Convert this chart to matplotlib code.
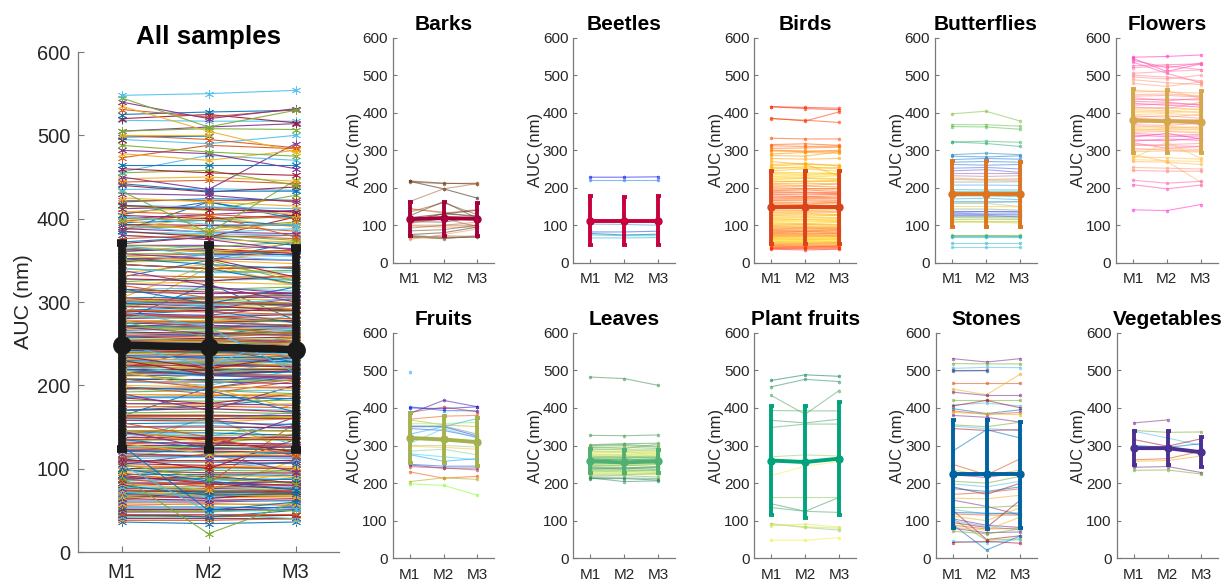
import numpy as np
import matplotlib
matplotlib.use("Agg")
import matplotlib.pyplot as plt
from matplotlib.colors import LinearSegmentedColormap as LSC

plt.rcParams['font.family'] = ['Liberation Sans', 'DejaVu Sans']
n = float('nan')
METHODS = ['M1', 'M2', 'M3']

BARKS = [(217,197,172),(218,212,210),(215,211,212),(163,197,211),(145,132,142),(143,135,120),(135,160,128),(125,163,118),
 (120,130,140),(112,130,125),(110,108,122),(105,118,96),(100,100,108),(98,95,95),(92,100,100),(85,88,100),(75,80,95),
 (72,68,68),(70,65,70),(68,64,72),(65,72,70),(62,75,90)]
BEETLES = [(228,228,229),(220,220,220),(103,102,100),(82,82,84),(78,74,76),(74,72,72),(66,66,67)]
BIRDS = [(416,414,412),(416,411,408),(385,378,402),(384,380,374),(332,330,330),(315,317,313),(312,310,311),(305,306,308),
 (300,298,297),(298,296,300),(290,294,292),(286,284,296),(278,276,278),(270,262,260),(262,265,258),(258,262,232),(254,252,254),(250,256,250),
 (245,250,244),(241,240,238),(238,236,238),(234,233,235),(230,228,232),(226,226,224),(222,225,222),(218,216,220),(215,218,216),(211,212,210),(208,206,210),
 (204,204,202),(200,198,196),(196,197,198),(192,194,190),(189,188,187),(186,186,184),(182,181,182),(178,176,178),(174,175,173),(170,172,170),(167,168,166),(165,165,162),
 (161,160,160),(158,156,160),(154,155,153),(150,152,148),(147,147,147),(144,146,145),(141,140,141),(138,138,136),(134,135,134),
 (130,132,128),(127,128,127),(125,124,126),(121,121,120),(118,116,118),(115,115,114),(112,114,112),(109,109,110),(106,104,108),(103,103,102),(100,102,100),(98,98,97),(96,95,94),(93,93,92),(90,92,90),(88,88,87),(86,85,88),
 (83,83,84),(80,82,80),(78,78,77),(76,76,78),(74,73,74),(72,74,72),(70,70,69),(68,68,70),(66,65,66),(64,62,64),(62,62,61),(60,60,62),(58,57,58),(56,58,56),(54,54,53),(52,52,54),(50,49,50),(48,50,50),(46,46,46),(44,43,44),
 (42,42,44),(40,40,39),(38,38,40),(36,34,36)]
BUTTERFLIES = [(397,404,378),(368,368,364),(363,362,356),(322,324,321),(322,318,310),(288,292,288),(284,282,285),
 (275,278,276),(268,270,268),(262,260,262),(252,254,250),(245,248,241),(240,240,240),(232,230,232),(226,222,224),
 (222,220,220),(215,215,216),(207,207,206),(195,194,194),(190,190,190),(185,185,184),(178,178,176),(170,172,168),(165,165,165),
 (160,160,162),(158,158,150),(150,150,149),(143,143,140),(138,138,138),(135,136,135),(132,130,130),(128,128,127),(126,126,122),(124,124,124),(120,120,119),(115,116,115),
 (110,110,110),(108,108,106),(74,74,74),(72,72,71),(70,70,70),(68,68,68),(52,52,52),(41,41,41)]
FLOWERS = [(548,550,554),(545,510,530),(540,520,532),(535,505,480),(525,528,530),(520,525,515),(505,510,514),(500,495,485),
 (495,490,500),(488,480,475),(478,470,482),(460,455,452),(455,458,440),(448,450,445),(444,446,442),(440,432,438),(435,436,434),(430,428,420),
 (425,420,415),(420,424,422),(415,410,428),(412,414,408),(408,405,400),(404,400,404),(400,405,410),(395,398,392),(392,388,396),(388,392,385),(384,382,380),(380,375,372),(376,380,376),(372,378,368),(368,366,372),
 (365,360,362),(361,364,358),(358,352,350),(355,358,360),(352,356,355),(348,350,346),(345,340,342),(340,336,338),(335,345,330),(328,325,332),(324,330,326),(320,305,310),(315,312,310),(312,315,318),
 (305,300,298),(300,304,302),(296,298,295),(288,270,215),(282,280,276),(278,322,278),(275,272,270),(270,268,262),(254,252,250),
 (246,244,244),(220,212,217),(208,197,207),(141,139,155)]
FRUITS = [(495,n,n),(403,393,392),(400,398,403),(385,420,403),(388,402,390),(370,378,380),(368,355,350),(358,358,362),
 (352,352,330),(350,350,325),(345,340,322),(330,350,372),(305,345,320),(300,300,296),(298,295,290),(285,290,275),
 (278,270,262),(276,258,265),(250,245,245),(248,240,240),(244,240,235),(230,213,218),(204,214,210),(198,194,168)]
LEAVES = [(482,478,460),(327,326,328),(302,305,306),(300,303,298),(298,300,296),(295,292,304),(293,296,292),(290,288,285),(288,290,290),(285,282,280),(283,284,286),(280,282,276),(278,277,280),
 (276,274,278),(274,276,272),(272,270,272),(270,272,268),(268,266,270),(266,268,266),(264,262,264),(262,264,260),(260,258,262),(258,256,258),(256,254,256),(254,256,252),(252,252,250),(250,248,252),(248,246,250),(246,248,244),
 (244,242,240),(242,240,244),(240,238,242),(238,240,236),(236,234,232),(234,236,234),(232,230,236),(230,232,228),(228,226,228),(226,228,224),(224,224,222),(221,222,226),(218,220,216),(215,214,212),(214,204,206),(212,212,208)]
PLANT_FRUITS = [(473,488,484),(456,476,470),(433,383,446),(393,392,392),(367,360,370),(348,357,357),(270,275,272),
 (220,245,257),(163,163,163),(145,125,162),(135,125,122),(92,82,75),(90,84,80),(87,91,83),(48,48,55)]
STONES = [(531,522,531),(518,517,517),(505,508,507),(500,500,n),(498,499,n),(465,465,465),(450,435,490),(442,433,433),
 (422,422,422),(408,413,405),(405,420,400),(398,385,395),(392,383,388),(388,384,382),(380,375,362),(355,350,362),
 (352,345,340),(345,340,342),(285,342,320),(250,222,265),(235,220,235),(222,215,228),(205,200,218),(198,190,205),
 (190,170,200),(185,178,190),(170,175,185),(160,158,168),(155,138,115),(135,135,140),(130,118,122),(128,50,60),
 (122,120,118),(118,115,115),(112,100,135),(105,88,82),(105,48,52),(100,85,75),(95,82,155),(90,22,60),(88,78,80),
 (82,75,110),(80,68,70),(72,65,78),(45,42,50),(42,45,40)]
VEGETABLES = [(360,368,n),(340,335,336),(338,320,300),(316,298,318),(300,295,305),(262,265,285),(258,260,272),(242,244,228),(234,235,224)]

GROUP_NAMES = ['Barks','Beetles','Birds','Butterflies','Flowers','Fruits','Leaves','Plant fruits','Stones','Vegetables']
GROUP_ROWS = [BARKS,BEETLES,BIRDS,BUTTERFLIES,FLOWERS,FRUITS,LEAVES,PLANT_FRUITS,STONES,VEGETABLES]
GROUP_MEAN = [(116,119,117),(112,112,112),(148,148,148),(183,183,183),(380,377,376),(320,316,309),(258,255,258),(260,256,265),(224,224,224),(293,293,282)]
GROUP_UP = [(162,163,158),(177,176,177),(245,245,244),(270,270,268),(463,460,458),(387,378,372),(290,288,288),(404,404,415),(367,368,363),(339,339,322)]
GROUP_LOW = [(70,72,70),(46,46,46),(50,50,50),(95,95,95),(292,293,293),(254,254,246),(228,228,228),(116,108,115),(81,78,81),(247,247,243)]
ALL_MEAN = (248,246,243)
ALL_UP = (371,368,365)
ALL_LOW = (124,123,123)

MAT = ['#0072BD','#D95319','#EDB120','#7E2F8E','#77AC30','#4DBEEE','#A2142F']
LINE_COL = [['#302010','#E08040','#201810','#E89050','#302010','#E8A060'],
 ['#0000FF','#30A0E0','#40A0E0','#0000FF','#00E080','#30B0E0'],
 ['#FF2000','#FFA000','#FFD000','#FF4000','#FF8000','#FFD000','#FF6000','#FFE000','#FF2000'],
 ['#80C040','#40C060','#2080E0','#2080E0','#8060E0','#F0A040','#40A0F0','#40C080','#40A0F0','#F0D040','#2060E0','#6060F0','#80C040','#D8C820','#20B0A0','#40C0E0'],
 ['#FF30C0','#FF80A0','#FFB060','#FF40B0','#FFE040','#FF50B0','#FFE040','#FF30C0','#FFA080','#FFD040','#FF30D0'],
 ['#20A0FF','#0000E0','#FF4000','#90FF40','#2030E0','#20D0FF','#FFC030','#20E0FF','#2040E0','#FF4000','#80FF30'],
 ['#409050','#80C060','#F0F050','#30A060','#C0E060','#40A060','#E0F060','#208060'],
 ['#108060','#60B060','#40A070','#F0F060','#209070','#C0E060','#F0F040'],
 None, None]
MEAN_COL = ['#A5003C','#C8003C','#D9431E','#DD7420','#D4A84B','#A4B14C','#4FB071','#00A37A','#0062A0','#4A3090']
AST = (6, 2, 0)

W, H = 1228, 580
fig = plt.figure(figsize=(W/100, H/100), dpi=100)

def box(l, r, top, bot):
    return fig.add_axes([l/W, 1-bot/H, (r-l)/W, (bot-top)/H])

def style(ax, fs, lfs, title, tfs, tpad, tl, xpad, ypad, lpad):
    ax.set_xlim(0.5, 3.5); ax.set_ylim(0, 600)
    ax.set_xticks([1,2,3], METHODS); ax.set_yticks(range(0,601,100))
    for s in ('top','right'):
        ax.spines[s].set_visible(False)
    for s in ('left','bottom'):
        ax.spines[s].set_color('#7a7a7a'); ax.spines[s].set_linewidth(0.9)
    ax.tick_params(direction='in', length=tl, width=0.8, color='#7a7a7a', labelcolor='#262626', labelsize=fs)
    ax.tick_params(axis='x', pad=xpad); ax.tick_params(axis='y', pad=ypad)
    ax.set_ylabel('AUC (nm)', fontsize=lfs, color='#262626', labelpad=lpad)
    ax.set_title(title, fontsize=tfs, fontweight='bold', pad=tpad)

def summary(ax, mean, up, low, col, lw, ms, cap):
    m, u, d = np.array(mean,float), np.array(up,float), np.array(low,float)
    ax.errorbar([1,2,3], m, yerr=[m-d, u-m], color=col, lw=lw, elinewidth=lw, marker='o', ms=ms,
                capsize=cap, capthick=lw, zorder=10)

# main panel
ax = box(78, 339, 52, 552)
rows = [r for g in GROUP_ROWS for r in g]
order = sorted(rows, key=lambda r: r[0])
for i, r in enumerate(order):
    ax.plot([1,2,3], r, color=MAT[i % 7], lw=0.8, marker=AST, ms=6.5, mew=0.6, alpha=0.9, zorder=2)
style(ax, 14.4, 15.4, 'All samples', 18.7, 6, 4, 8, 5.5, 3)
summary(ax, ALL_MEAN, ALL_UP, ALL_LOW, '#1a1a1a', 5.5, 12.5, 3.5)

# small panels
LEFTS_TOP = [392.7, 573.3, 754.3, 935, 1116]
LEFTS_BOT = [392.7, 573.3, 754.3, 935.7, 1116.7]
for i, (name, g) in enumerate(zip(GROUP_NAMES, GROUP_ROWS)):
    if i < 5:
        a = box(LEFTS_TOP[i], LEFTS_TOP[i]+101.7, 37.7, 262.7)
    else:
        a = box(LEFTS_BOT[i-5], LEFTS_BOT[i-5]+101.7, 332.7, 558.3)
    cmap = LSC.from_list('c', LINE_COL[i]) if LINE_COL[i] else None
    for j, r in enumerate(g):
        c = cmap(j/max(len(g)-1,1)) if cmap else MAT[(j+3) % 7]
        a.plot([1,2,3], r, color=c, lw=0.8, marker=AST, ms=2.5, mew=0.6, alpha=0.55, zorder=2)
    style(a, 11, 12, name, 15, 5.5, 3, 7, 3.5, 0)
    summary(a, GROUP_MEAN[i], GROUP_UP[i], GROUP_LOW[i], MEAN_COL[i], 2.8, 5, 1.8)

fig.savefig('out.png', dpi=100)
